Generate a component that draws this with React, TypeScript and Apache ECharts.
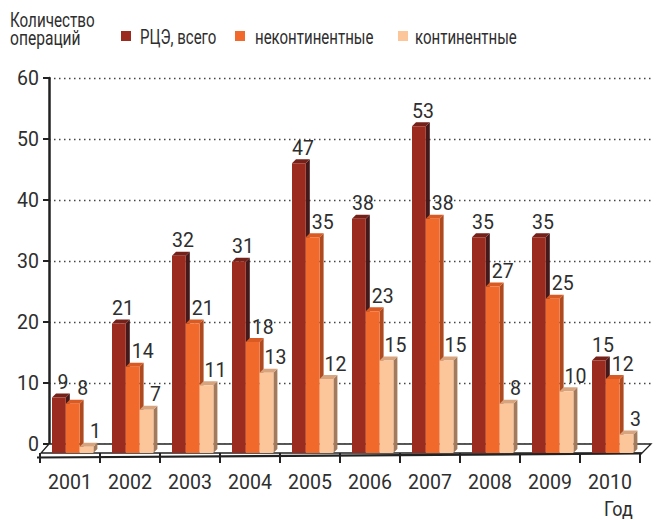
import React, { useEffect, useRef } from "react";
import * as echarts from "echarts";

const years = ["2001", "2002", "2003", "2004", "2005", "2006", "2007", "2008", "2009", "2010"];
const totalOps = [9, 21, 32, 31, 47, 38, 53, 35, 35, 15];
const nonContinental = [8, 14, 21, 18, 35, 23, 38, 27, 25, 12];
const continental = [1, 7, 11, 13, 12, 15, 15, 8, 10, 3];
const seriesNames = ["РЦЭ, всего", "неконтинентные", "континентные"];
const yAxisTitleLines = ["Количество", "операций"];
const xAxisTitle = "Год";
const yMin = 0;
const yMax = 60;
const yInterval = 10;

const FONT = 'Roboto, "Noto Sans", sans-serif';
const TEXT = "#2e2e2e";

const faces = [
  { front: "#9c2b1f", side: "#43191b", top: "#74211a", labelDx: 4 },
  { front: "#f26a2b", side: "#ad4a1f", top: "#d95a22", labelDx: 10 },
  { front: "#fcc69a", side: "#a47a5c", top: "#d8a47e", labelDx: 9 },
];

// legend layout (pixels)
const legendIconX = [121, 235, 398];
const legendTextX = [140, 255, 415];

function makeRender(si: number) {
  return (params: any, api: any) => {
    const ci = api.value(0);
    const v = api.value(1);
    const topPt = api.coord([ci, v]);
    const basePt = api.coord([ci, 0]);
    const bw = api.size([1, 0])[0];
    const w = bw * 0.23;
    const x = topPt[0] - bw * 0.3 + si * w;
    const y = topPt[1];
    const yb = basePt[1];
    const d = 4;
    const f = faces[si];
    return {
      type: "group",
      children: [
        {
          type: "polygon",
          shape: { points: [[x + w, y], [x + w + d, y - d], [x + w + d, yb - d], [x + w, yb]] },
          style: { fill: f.side },
        },
        {
          type: "polygon",
          shape: { points: [[x, y], [x + d, y - d], [x + w + d, y - d], [x + w, y]] },
          style: { fill: f.top },
        },
        {
          type: "rect",
          shape: { x, y, width: w, height: yb - y },
          style: { fill: f.front },
        },
        {
          type: "text",
          z2: 50,
          style: {
            text: String(v),
            x: x + w / 2 + f.labelDx,
            y: y - 15,
            align: "center",
            verticalAlign: "middle",
            fontSize: 19.5,
            fontFamily: FONT,
            fill: TEXT,
          },
        },
      ],
    };
  };
}

export default function App() {
  const ref = useRef<HTMLDivElement>(null);
  useEffect(() => {
    if (!ref.current) return;
    const chart = echarts.init(ref.current, undefined, { renderer: "svg" });
    const seriesData = [totalOps, nonContinental, continental];

    const legendGraphics: any[] = [];
    seriesNames.forEach((name, i) => {
      legendGraphics.push({
        type: "rect",
        shape: { x: legendIconX[i], y: 31, width: 10, height: 10 },
        style: { fill: faces[i].front },
      });
      legendGraphics.push({
        type: "text",
        x: legendTextX[i],
        y: 37.5,
        scaleX: 0.77,
        style: { text: name, x: 0, y: 0, fontSize: 19.5, fontFamily: FONT, fill: TEXT, verticalAlign: "middle" },
      });
    });

    const option: any = {
      animation: false,
      backgroundColor: "#ffffff",
      textStyle: { fontFamily: FONT },
      grid: [
        { left: 49, right: 5, top: 78, bottom: 76 },
        { left: 40, right: 16, top: 83, bottom: 67 },
      ],
      xAxis: [
        { type: "category", gridIndex: 0, data: years, show: false },
        {
          type: "category",
          gridIndex: 1,
          data: years,
          axisLine: { show: false },
          axisTick: { show: true, length: 10, lineStyle: { color: "#222", width: 2 } },
          axisLabel: { fontSize: 19.5, color: TEXT, margin: 19, fontFamily: FONT },
        },
      ],
      yAxis: [
        {
          type: "value",
          gridIndex: 0,
          min: yMin,
          max: yMax,
          interval: yInterval,
          axisLine: { show: true, lineStyle: { color: "#222", width: 2.5 } },
          axisTick: { show: true, length: 6, lineStyle: { color: "#222", width: 2 } },
          axisLabel: { fontSize: 19.5, color: TEXT, margin: 10, fontFamily: FONT },
          splitLine: { show: true, lineStyle: { color: "#444", width: 1.3, type: [1.5, 3.5] } },
        },
        { type: "value", gridIndex: 1, min: yMin, max: yMax, interval: yInterval, show: false, splitLine: { show: false } },
      ],
      graphic: [
        {
          type: "polygon",
          z: 1,
          shape: { points: [[49, 444], [651, 444], [642, 453], [41, 453]] },
          style: { fill: "#ffffff", stroke: "#222", lineWidth: 1.3 },
        },
        {
          type: "line",
          z: 1,
          shape: { x1: 37, y1: 457.5, x2: 642, y2: 453.5 },
          style: { stroke: "#222", lineWidth: 2.2 },
        },
        {
          type: "text",
          x: 10,
          y: 20.5,
          scaleX: 0.78,
          style: { text: yAxisTitleLines[0], x: 0, y: 0, fontSize: 19.5, fontFamily: FONT, fill: TEXT, verticalAlign: "middle" },
        },
        {
          type: "text",
          x: 10,
          y: 38.5,
          scaleX: 0.8,
          style: { text: yAxisTitleLines[1], x: 0, y: 0, fontSize: 19.5, fontFamily: FONT, fill: TEXT, verticalAlign: "middle" },
        },
        {
          type: "text",
          x: 604,
          y: 509.5,
          scaleX: 0.92,
          style: { text: xAxisTitle, x: 0, y: 0, fontSize: 19.5, fontFamily: FONT, fill: TEXT, verticalAlign: "middle" },
        },
        ...legendGraphics,
      ],
      series: seriesData.map((vals, si) => ({
        type: "custom",
        name: seriesNames[si],
        xAxisIndex: 1,
        yAxisIndex: 1,
        z: 3,
        itemStyle: { color: faces[si].front },
        encode: { x: 0, y: 1 },
        renderItem: makeRender(si),
        data: vals.map((v, i) => [i, v]),
      })),
    };
    chart.setOption(option);
    return () => chart.dispose();
  }, []);
  return <div ref={ref} style={{ position: "fixed", left: 0, top: 0, width: 656, height: 520 }} />;
}
